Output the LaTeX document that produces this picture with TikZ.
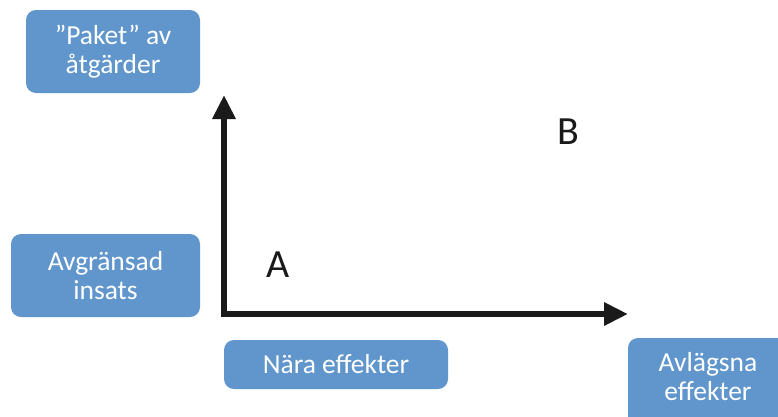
\documentclass[tikz,border=0pt]{standalone}
\usepackage{fontspec}
\setmainfont{Carlito}
\usetikzlibrary{arrows.meta}
\definecolor{boxblue}{RGB}{96,150,204}
\definecolor{axis}{RGB}{26,26,26}
\tikzset{
  lbox/.style={fill=boxblue, rounded corners=10pt, text=white, align=center,
    font=\fontsize{27.5}{29}\selectfont, inner sep=0pt},
  big/.style={font=\fontsize{40}{42}\selectfont, text=axis}
}
\begin{document}
\begin{tikzpicture}[x=1pt,y=-1pt]
\useasboundingbox (0,0) rectangle (778,416);
\clip (0,0) rectangle (778,416);
\fill[white] (0,0) rectangle (778,416);
\node[lbox, minimum width=174pt, minimum height=83pt] (paket) at (113,51.5) {”Paket” av\\åtgärder};
\node[lbox, minimum width=189pt, minimum height=83pt] (avgr) at (105.5,275.5) {Avgränsad\\insats};
\node[lbox, minimum width=224pt, minimum height=49pt] (nara) at (336,364.5) {Nära effekter};
\node[lbox, minimum width=164pt, minimum height=90pt] (avl) at (710,383) {};
\node[text=white, align=center, font=\fontsize{27.5}{29}\selectfont] (avltext) at (708,377) {Avlägsna\\effekter};
\coordinate (ytop) at (224,95);
\coordinate (origin) at (224,314);
\coordinate (xend) at (628,314);
\draw[line width=6pt, draw=axis, line join=miter, {Triangle[length=24pt,width=22pt]}-{Triangle[length=24pt,width=22pt]}] (ytop) -- (origin) -- (xend);
\node[big] (A) at (278,265) {A};
\node[big] (B) at (568,132) {B};
\end{tikzpicture}
\end{document}
